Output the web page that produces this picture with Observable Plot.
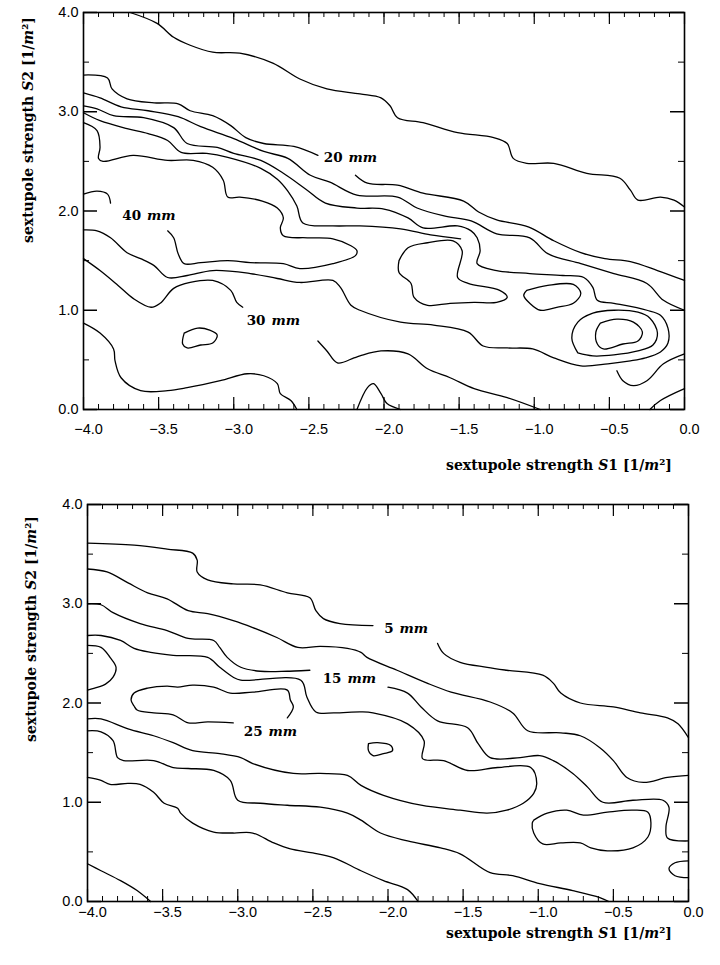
<!DOCTYPE html>
<html><head><meta charset="utf-8">
<script src="https://cdn.jsdelivr.net/npm/d3@7"></script>
<script src="https://cdn.jsdelivr.net/npm/@observablehq/plot@0.6"></script>
<style>body{margin:0;background:#fff}#top,#bottom{display:block;width:720px}</style>
</head><body><div id="top"></div><div id="bottom"></div>
<script>
// ---------- axis ticks ----------
const xMajor = [-4, -3.5, -3, -2.5, -2, -1.5, -1, -0.5, 0];
const xMinor = d3.range(-40, 1).map(i => i / 10);
const yMajor = [0, 1, 2, 3, 4];
const yMinor = [0.5, 1.5, 2.5, 3.5];

// ---------- top panel contours [S1, S2] ----------
const topA = [[-3.69,4.00],[-3.51,3.89],[-3.40,3.75],[-3.29,3.67],[-3.14,3.60],[-2.96,3.59],[-2.74,3.49],[-2.56,3.33],[-2.38,3.23],[-2.16,3.18],[-2.02,3.14],[-1.96,3.06],[-1.91,2.94],[-1.74,2.89],[-1.51,2.79],[-1.27,2.74],[-1.18,2.68],[-1.14,2.53],[-1.05,2.48],[-0.87,2.48],[-0.65,2.38],[-0.43,2.33],[-0.36,2.21],[-0.31,2.11],[-0.16,2.14],[-0.07,2.11],[0,2.04]];
const top20a = [[-4,3.37],[-3.84,3.34],[-3.81,3.23],[-3.71,3.13],[-3.53,3.09],[-3.37,3.08],[-3.29,3.01],[-3.14,2.96],[-3.02,2.86],[-2.92,2.74],[-2.80,2.68],[-2.60,2.65],[-2.44,2.56]];
const top20b = [[-2.19,2.36],[-2.11,2.28],[-1.91,2.26],[-1.74,2.18],[-1.47,2.10],[-1.37,1.99],[-1.25,1.91],[-1.04,1.84],[-0.87,1.70],[-0.69,1.58],[-0.53,1.52],[-0.36,1.49],[-0.18,1.40],[0,1.30]];
const topC = [[-4,3.19],[-3.89,3.14],[-3.75,3.05],[-3.57,3.01],[-3.37,2.95],[-3.22,2.85],[-3.00,2.73],[-2.80,2.60],[-2.64,2.53],[-2.49,2.36],[-2.36,2.29],[-2.18,2.16],[-1.91,2.14],[-1.78,2.03],[-1.60,1.95],[-1.42,1.90],[-1.25,1.77],[-1.03,1.73],[-0.91,1.57],[-0.69,1.47],[-0.47,1.37],[-0.25,1.27],[-0.14,1.10],[0,1.00]];
const topD = [[-4,3.06],[-3.91,3.03],[-3.80,2.96],[-3.60,2.94],[-3.40,2.84],[-3.31,2.68],[-3.11,2.64],[-3.00,2.58],[-2.82,2.51],[-2.67,2.38],[-2.52,2.22],[-2.39,2.08],[-2.18,2.03],[-2.00,2.02],[-1.84,1.93],[-1.74,1.83],[-1.51,1.85],[-1.42,1.80],[-1.38,1.73],[-1.36,1.60],[-1.38,1.47],[-1.25,1.40],[-1.03,1.37],[-0.81,1.35],[-0.67,1.33],[-0.61,1.23],[-0.58,1.10],[-0.47,1.07],[-0.25,1.00],[-0.16,0.95],[-0.11,0.82],[-0.11,0.67],[-0.16,0.58],[-0.26,0.52],[-0.36,0.49],[-0.51,0.46],[-0.69,0.44],[-0.87,0.52],[-1.01,0.61],[-1.18,0.62],[-1.34,0.64],[-1.44,0.78],[-1.67,0.85],[-1.89,0.88],[-2.16,1.00],[-2.22,1.05],[-2.29,1.23],[-2.34,1.30],[-2.56,1.28],[-2.71,1.32],[-2.89,1.37],[-3.14,1.40],[-3.31,1.35],[-3.44,1.33],[-3.53,1.45],[-3.62,1.52],[-3.71,1.58],[-3.82,1.73],[-3.91,1.80],[-4,1.81]];
const topE = [[-4,2.99],[-3.89,2.91],[-3.71,2.83],[-3.57,2.78],[-3.44,2.71],[-3.35,2.59],[-3.18,2.58],[-3.04,2.54],[-2.82,2.43],[-2.71,2.32],[-2.64,2.20],[-2.58,2.05],[-2.54,1.88],[-2.34,1.85],[-2.16,1.85],[-1.89,1.82],[-1.69,1.76],[-1.49,1.72]];
const top40a = [[-4,2.89],[-3.91,2.81],[-3.89,2.64],[-3.90,2.53],[-3.87,2.50],[-3.67,2.56],[-3.44,2.51],[-3.27,2.51],[-3.14,2.44],[-3.07,2.31],[-3.04,2.14],[-2.96,2.14],[-2.81,2.10],[-2.71,2.03],[-2.67,1.93],[-2.69,1.83],[-2.67,1.75],[-2.51,1.73],[-2.34,1.72],[-2.22,1.65],[-2.18,1.60],[-2.19,1.55],[-2.34,1.47],[-2.56,1.42],[-2.67,1.47],[-2.89,1.48],[-3.04,1.50],[-3.22,1.48],[-3.33,1.47],[-3.37,1.57],[-3.40,1.73],[-3.44,1.80]];
const top40b = [[-3.82,2.08],[-3.84,2.17],[-3.91,2.20],[-4,2.17]];
const top30a = [[-4,1.52],[-3.89,1.40],[-3.77,1.25],[-3.67,1.12],[-3.55,1.03],[-3.49,1.07],[-3.40,1.22],[-3.29,1.28],[-3.14,1.30],[-3.02,1.20],[-2.98,1.08],[-2.94,1.03]];
const top30b = [[-2.44,0.69],[-2.38,0.59],[-2.31,0.47],[-2.20,0.52],[-2.16,0.54],[-2.02,0.59],[-1.84,0.56],[-1.71,0.41],[-1.56,0.32],[-1.40,0.21],[-1.18,0.12],[-0.96,0]];
const topIslandL = [[-3.33,0.77],[-3.24,0.82],[-3.16,0.80],[-3.11,0.75],[-3.14,0.67],[-3.22,0.65],[-3.31,0.62],[-3.34,0.66],[-3.33,0.77]];
const topLow = [[-4,0.87],[-3.89,0.77],[-3.80,0.61],[-3.79,0.49],[-3.75,0.32],[-3.62,0.19],[-3.44,0.19],[-3.31,0.22],[-3.09,0.29],[-2.91,0.36],[-2.80,0.34],[-2.71,0.26],[-2.69,0.16],[-2.62,0.09],[-2.58,0]];
const topBump = [[-2.18,0],[-2.11,0.22],[-2.07,0.26],[-2.02,0.16],[-1.98,0.06],[-1.89,0]];
const topIsland1 = [[-1.90,1.50],[-1.84,1.63],[-1.71,1.68],[-1.54,1.70],[-1.48,1.60],[-1.51,1.33],[-1.44,1.27],[-1.23,1.20],[-1.18,1.13],[-1.25,1.08],[-1.40,1.08],[-1.56,1.07],[-1.71,1.05],[-1.80,1.13],[-1.82,1.27],[-1.90,1.38],[-1.90,1.50]];
const topIsland2 = [[-1.05,1.20],[-0.91,1.25],[-0.74,1.26],[-0.69,1.17],[-0.74,1.07],[-0.85,1.03],[-0.96,1.00],[-1.03,1.07],[-1.07,1.15],[-1.05,1.20]];
const topIsland3 = [[-0.56,0.87],[-0.45,0.91],[-0.34,0.88],[-0.28,0.78],[-0.31,0.69],[-0.41,0.66],[-0.54,0.61],[-0.58,0.66],[-0.59,0.78],[-0.56,0.87]];
const topRing3 = [[-0.71,0.57],[-0.75,0.72],[-0.71,0.88],[-0.61,0.97],[-0.47,1.00],[-0.31,0.98],[-0.23,0.92],[-0.18,0.77],[-0.21,0.65],[-0.31,0.59],[-0.47,0.55],[-0.61,0.54],[-0.71,0.57]];
const topHook = [[-0.45,0.39],[-0.41,0.29],[-0.34,0.24],[-0.25,0.29],[-0.14,0.46],[0,0.56]];
const topCorner = [[-0.23,0],[-0.16,0.09],[0,0.21]];

const topLabelText = ["20", "40", "30"];
const topLabelX = [-2.256, -3.597, -2.769];
const topLabelY = [2.54, 1.95, 0.90];

// ---------- bottom panel contours [S1, S2] ----------
const bot5a = [[-4,3.61],[-3.69,3.59],[-3.47,3.55],[-3.30,3.51],[-3.27,3.44],[-3.27,3.32],[-3.20,3.24],[-3.03,3.20],[-2.85,3.19],[-2.67,3.11],[-2.52,3.06],[-2.48,2.93],[-2.43,2.85],[-2.32,2.80],[-2.10,2.78]];
const bot5b = [[-1.67,2.60],[-1.63,2.50],[-1.52,2.41],[-1.34,2.36],[-1.21,2.33],[-0.97,2.28],[-0.90,2.20],[-0.85,2.10],[-0.72,2.00],[-0.50,1.96],[-0.32,1.90],[-0.14,1.85],[-0.07,1.79],[0,1.65]];
const bot10 = [[-4,3.35],[-3.87,3.32],[-3.73,3.21],[-3.60,3.11],[-3.47,3.05],[-3.33,2.93],[-3.20,2.90],[-3.03,2.83],[-2.90,2.76],[-2.74,2.66],[-2.60,2.56],[-2.45,2.57],[-2.27,2.55],[-2.18,2.51],[-2.14,2.46],[-1.94,2.33],[-1.74,2.20],[-1.58,2.11],[-1.32,2.01],[-1.17,1.90],[-1.07,1.72],[-0.85,1.70],[-0.72,1.67],[-0.59,1.55],[-0.50,1.42],[-0.41,1.25],[-0.30,1.20],[-0.14,1.25],[0,1.27]];
const bot15a = [[-4,3.00],[-3.91,2.99],[-3.83,2.91],[-3.65,2.80],[-3.47,2.73],[-3.33,2.65],[-3.16,2.63],[-3.12,2.56],[-3.07,2.46],[-2.98,2.36],[-2.85,2.32],[-2.67,2.32],[-2.52,2.33]];
const bot15b = [[-2.00,2.16],[-1.87,2.10],[-1.78,1.96],[-1.67,1.82],[-1.47,1.75],[-1.40,1.59],[-1.32,1.45],[-1.12,1.45],[-0.99,1.47],[-0.90,1.42],[-0.77,1.29],[-0.67,1.15],[-0.57,1.00],[-0.37,1.02],[-0.17,1.02],[-0.13,0.95],[-0.15,0.75],[-0.14,0.64],[0,0.61]];
const bot20 = [[-4,2.68],[-3.91,2.68],[-3.78,2.63],[-3.69,2.55],[-3.58,2.51],[-3.43,2.48],[-3.20,2.46],[-3.12,2.36],[-3.03,2.26],[-2.98,2.23],[-2.58,2.23],[-2.54,2.06],[-2.48,1.91],[-2.36,1.90],[-2.18,1.91],[-2.10,1.90],[-1.87,1.79],[-1.76,1.62],[-1.77,1.44],[-1.63,1.42],[-1.47,1.32],[-1.27,1.35],[-1.05,1.35],[-1.01,1.19],[-1.03,1.09],[-1.10,0.99],[-1.21,0.92],[-1.34,0.89],[-1.52,0.92],[-1.78,0.97],[-2.03,1.07],[-2.18,1.17],[-2.27,1.27],[-2.45,1.29],[-2.63,1.29],[-2.90,1.39],[-2.98,1.45],[-3.12,1.49],[-3.30,1.52],[-3.43,1.60],[-3.56,1.67],[-3.73,1.74],[-3.91,1.84],[-4,1.84]];
const botLeftLoop = [[-4,2.58],[-3.91,2.56],[-3.85,2.46],[-3.81,2.36],[-3.83,2.26],[-3.88,2.19],[-3.93,2.16],[-4,2.13]];
const bot25 = [[-2.67,1.85],[-2.63,1.96],[-2.65,2.03],[-2.67,2.13],[-2.90,2.11],[-3.05,2.10],[-3.16,2.16],[-3.30,2.18],[-3.40,2.16],[-3.47,2.17],[-3.60,2.15],[-3.69,2.10],[-3.71,2.03],[-3.69,1.97],[-3.67,1.93],[-3.56,1.90],[-3.43,1.88],[-3.33,1.80],[-3.20,1.81],[-3.03,1.80]];
const botE = [[-4,1.72],[-3.91,1.71],[-3.83,1.62],[-3.80,1.45],[-3.76,1.42],[-3.56,1.42],[-3.43,1.35],[-3.33,1.34],[-3.16,1.32],[-3.05,1.22],[-3.00,1.02],[-2.85,0.99],[-2.67,0.97],[-2.45,0.95],[-2.27,0.89],[-2.18,0.82],[-2.05,0.69],[-1.87,0.61],[-1.65,0.54],[-1.52,0.48],[-1.32,0.29],[-1.17,0.26],[-0.99,0.18],[-0.77,0.11],[-0.59,0.04],[-0.53,0]];
const botF = [[-4,1.25],[-3.91,1.22],[-3.85,1.18],[-3.73,1.19],[-3.65,1.18],[-3.56,1.10],[-3.49,0.99],[-3.40,0.94],[-3.38,0.89],[-3.30,0.79],[-3.16,0.70],[-3.03,0.69],[-2.90,0.69],[-2.76,0.59],[-2.65,0.53],[-2.50,0.49],[-2.36,0.44],[-2.18,0.31],[-2.03,0.21],[-1.87,0.12],[-1.80,0]];
const botG = [[-4,0.38],[-3.91,0.31],[-3.78,0.21],[-3.67,0.11],[-3.58,0]];
const botIslandR = [[-1.03,0.82],[-0.94,0.89],[-0.81,0.92],[-0.70,0.87],[-0.54,0.90],[-0.37,0.92],[-0.27,0.90],[-0.25,0.79],[-0.27,0.65],[-0.37,0.54],[-0.54,0.51],[-0.65,0.54],[-0.72,0.59],[-0.85,0.59],[-0.97,0.58],[-1.03,0.69],[-1.04,0.79],[-1.03,0.82]];
const botEdgeU = [[0,0.41],[-0.09,0.39],[-0.13,0.33],[-0.09,0.26],[0,0.24]];
const botIslandS = [[-2.13,1.59],[-2.07,1.60],[-1.98,1.57],[-1.97,1.52],[-2.03,1.49],[-2.10,1.47],[-2.13,1.52],[-2.13,1.59]];

const botLabelText = ["5", "15", "25"];
const botLabelX = [-1.943, -2.290, -2.815];
const botLabelY = [2.75, 2.25, 1.71];

// ---------- drawing ----------
const serif = "DejaVu Serif, serif";
const fmt = d3.format(".1f");

function panel(o) {
  const rows = o.lines.flatMap((pts, i) => pts.map(([x, y]) => ({id: i, x, y})));
  const labels = o.labelText.map((n, i) => ({n, x: o.labelX[i], y: o.labelY[i]}));
  const W = 720;
  const plotH = o.height - o.mt - o.mb, plotW = W - o.ml - o.mr;
  const svg = Plot.plot({
    width: W, height: o.height,
    marginTop: o.mt, marginBottom: o.mb, marginLeft: o.ml, marginRight: o.mr,
    style: {fontFamily: "Liberation Sans, Arial, sans-serif", fontSize: "14.5px", background: "white", color: "black"},
    x: {domain: [-4, 0]},
    y: {domain: [0, 4]},
    marks: [
      Plot.line(rows, {x: "x", y: "y", z: "id", stroke: "black", strokeWidth: 1.3, curve: "catmull-rom"}),
      Plot.tickX(xMinor, {x: d => d, insetTop: plotH - 5, stroke: "black"}),
      Plot.tickX(xMinor, {x: d => d, insetBottom: plotH - 5, stroke: "black"}),
      Plot.tickX(xMajor, {x: d => d, insetTop: plotH - 12, stroke: "black", strokeWidth: 1.2}),
      Plot.tickX(xMajor, {x: d => d, insetBottom: plotH - 12, stroke: "black", strokeWidth: 1.2}),
      Plot.tickY(yMinor, {y: d => d, insetRight: plotW - 6, stroke: "black"}),
      Plot.tickY(yMinor, {y: d => d, insetLeft: plotW - 6, stroke: "black"}),
      Plot.tickY(yMajor, {y: d => d, insetRight: plotW - 14, stroke: "black", strokeWidth: 1.5}),
      Plot.tickY(yMajor, {y: d => d, insetLeft: plotW - 14, stroke: "black", strokeWidth: 1.5}),
      Plot.frame({stroke: "black", strokeWidth: 1.6}),
      Plot.axisX({ticks: xMajor, tickSize: 0, tickPadding: o.xPad, dx: 5, tickFormat: fmt, label: null}),
      Plot.axisY({ticks: yMajor, tickSize: 0, tickPadding: 5, tickFormat: fmt, label: null}),
      Plot.text(labels, {x: "x", y: "y", text: "n", textAnchor: "end", dx: -3, fontFamily: serif, fontWeight: "bold", fontSize: 13.5, fill: "black"}),
      Plot.text(labels, {x: "x", y: "y", text: () => "mm", textAnchor: "start", dx: 3, fontFamily: serif, fontWeight: "bold", fontStyle: "italic", fontSize: 13.5, fill: "black"})
    ]
  });
  const s = d3.select(svg);
  function title(sel, sym) {
    sel.attr("font-family", serif).attr("font-weight", "bold").attr("font-size", 14).attr("fill", "black");
    sel.append("tspan").text("sextupole strength ");
    sel.append("tspan").attr("font-style", "italic").text("S");
    sel.append("tspan").text(sym + " [1/");
    sel.append("tspan").attr("font-style", "italic").text("m");
    sel.append("tspan").text("²]");
  }
  title(s.append("text").attr("x", o.xtX).attr("y", o.xtY).attr("text-anchor", "start"), "1");
  title(s.append("text").attr("transform", `translate(${o.ytX},${o.ytY}) rotate(-90)`).attr("text-anchor", "start"), "2");
  return svg;
}

document.getElementById("top").appendChild(panel({
  lines: [topA, top20a, top20b, topC, topD, topE, top40a, top40b, top30a, top30b, topIslandL, topLow, topBump, topIsland1, topIsland2, topIsland3, topRing3, topHook, topCorner],
  labelText: topLabelText, labelX: topLabelX, labelY: topLabelY,
  height: 480, mt: 12, mb: 71, ml: 83, mr: 36, xPad: 14,
  xtX: 446, xtY: 470, ytX: 33, ytY: 243
}));
document.getElementById("bottom").appendChild(panel({
  lines: [bot5a, bot5b, bot10, bot15a, bot15b, bot20, botLeftLoop, bot25, botE, botF, botG, botIslandR, botEdgeU, botIslandS],
  labelText: botLabelText, labelX: botLabelX, labelY: botLabelY,
  height: 485, mt: 24, mb: 64, ml: 87, mr: 32, xPad: 5,
  xtX: 446, xtY: 458, ytX: 36, ytY: 262
}));
</script></body></html>
